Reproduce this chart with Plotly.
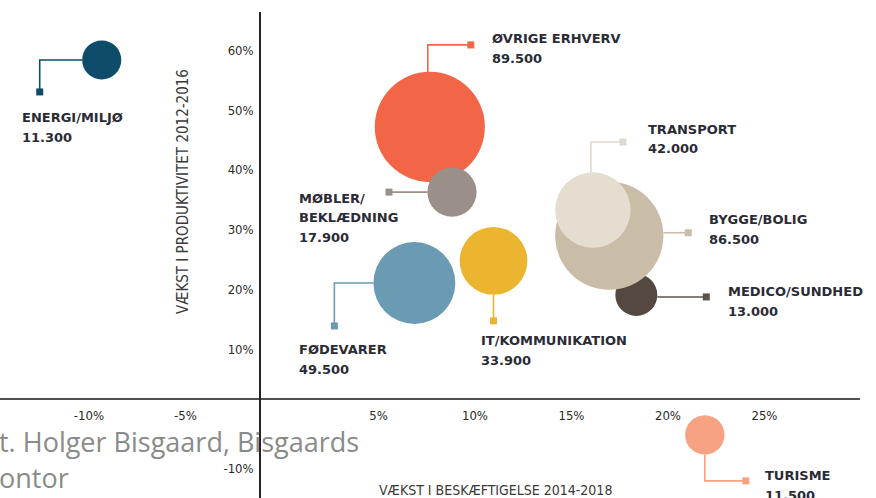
import math
import plotly.graph_objects as go

# ---------------- data ----------------
categories = ["ENERGI/MILJØ", "ØVRIGE ERHVERV", "MØBLER/\nBEKLÆDNING", "FØDEVARER",
              "IT/KOMMUNIKATION", "MEDICO/SUNDHED", "BYGGE/BOLIG", "TRANSPORT", "TURISME"]
employment_growth = [-8.2, 8.8, 9.95, 8.0, 12.1, 19.5, 18.1, 17.25, 23.05]     # x, %
productivity_growth = [56.7, 45.5, 34.6, 19.4, 23.1, 17.4, 27.3, 31.6, -6.0]   # y, %
employees = [11300, 89500, 17900, 49500, 33900, 13000, 86500, 42000, 11500]
employee_labels = ["11.300", "89.500", "17.900", "49.500", "33.900", "13.000", "86.500", "42.000", "11.500"]

x_tick_vals = [-10, -5, 5, 10, 15, 20, 25]
x_tick_text = ["-10%", "-5%", "5%", "10%", "15%", "20%", "25%"]
y_tick_vals = [-10, 10, 20, 30, 40, 50, 60]
y_tick_text = ["-10%", "10%", "20%", "30%", "40%", "50%", "60%"]

x_title = "VÆKST I BESKÆFTIGELSE 2014-2018"
y_title = "VÆKST I PRODUKTIVITET 2012-2016"
source_lines = ["t. Holger Bisgaard, Bisgaards", "ontor"]

# ---------------- styles ----------------
colors = ["#0e4c6a", "#f26547", "#9b8f8a", "#6a9bb2", "#ecb52f", "#554840", "#cabda8", "#e4ddd0", "#f6a283"]
line_colors = ["#0e4c6a", "#f26547", "#9b8f8a", "#6a9bb2", "#ecb52f", "#5e534c", "#cabda8", "#e0d9cb", "#f6a283"]
# leader: side of bubble where it starts, then bend points (pixel offsets from centre, y down)
leaders = [
    ("left", [(-62, 0), (-62, 32)]),
    ("up", [(-2, -82), (41, -82)]),
    ("left", [(-63, 0)]),
    ("left", [(-80, 0), (-80, 43)]),
    ("down", [(0, 60)]),
    ("right", [(70, 2)]),
    ("right", [(79, -3)]),
    ("up", [(-2, -68), (30, -68)]),
    ("down", [(0, 46), (41, 46)]),
]
label_offsets = [(-82, 58), (60, -88), (-155, 6), (-117, 67), (-15, 80),
                 (90, -3), (98, -16), (53, -81), (58, 41)]
LINE_STEP = 19.5

W, H = 876, 498
M_L, M_R, M_T, M_B = 0, 16, 12, 0
X_RANGE = [-13.47, 31.09]
Y_RANGE = [-16.56, 64.72]
PLOT_W = W - M_L - M_R
PLOT_H = H - M_T - M_B
PX_X = PLOT_W / (X_RANGE[1] - X_RANGE[0])
PX_Y = PLOT_H / (Y_RANGE[1] - Y_RANGE[0])
DIAM_K = 0.368                      # diameter px per sqrt(employee)
SIZEREF = 2 / DIAM_K ** 2           # plotly area mode: d = sqrt(2*v/sizeref)

LABEL_FONT = dict(family="DejaVu Sans, Verdana, sans-serif", size=13, color="#2b2b36", weight=700)
TICK_FONT = dict(family="Liberation Sans Narrow, DejaVu Sans Condensed, Roboto, sans-serif", size=13, color="#2a2a2a")

fig = go.Figure()

fig.add_trace(go.Scatter(
    x=employment_growth, y=productivity_growth, mode="markers",
    marker=dict(size=employees, sizemode="area", sizeref=SIZEREF, color=colors,
                line=dict(width=0), opacity=1),
    text=[c.replace("\n", " ") for c in categories], hoverinfo="text",
))

shapes = []
annotations = []
sq_x, sq_y, sq_c = [], [], []
for i, cat in enumerate(categories):
    cx, cy = employment_growth[i], productivity_growth[i]
    r = DIAM_K * math.sqrt(employees[i]) / 2
    side, pts = leaders[i]
    fx, fy = pts[0]
    start = {"left": (-r, fy), "right": (r, fy), "up": (fx, -r), "down": (fx, r)}[side]
    all_pts = [start] + pts
    dpts = [(cx + px / PX_X, cy - py / PX_Y) for px, py in all_pts]
    path = "M " + " L ".join(f"{x:.4f},{y:.4f}" for x, y in dpts)
    shapes.append(dict(type="path", path=path, xref="x", yref="y",
                       line=dict(color=line_colors[i], width=1.6), layer="above"))
    sq_x.append(dpts[-1][0]); sq_y.append(dpts[-1][1]); sq_c.append(line_colors[i])

    dx, dy = label_offsets[i]
    lines = cat.split("\n") + [employee_labels[i]]
    for k, ln in enumerate(lines):
        annotations.append(dict(text=ln, x=cx, y=cy, xref="x", yref="y", xanchor="left",
                                yanchor="middle", xshift=dx, yshift=-(dy + k * LINE_STEP),
                                showarrow=False, font=LABEL_FONT))

fig.add_trace(go.Scatter(x=sq_x, y=sq_y, mode="markers",
                         marker=dict(symbol="square", size=7, color=sq_c, line=dict(width=0)),
                         hoverinfo="skip"))

# axis titles
annotations.append(dict(text=y_title, xref="paper", yref="paper", x=183 / PLOT_W, y=(H - 192) / PLOT_H,
                        textangle=-90, showarrow=False, xanchor="center", yanchor="middle",
                        font=dict(family=TICK_FONT["family"], size=15, color="#3a3a3a")))
annotations.append(dict(text=x_title, xref="paper", yref="paper", x=495 / PLOT_W, y=(H - 490) / PLOT_H,
                        showarrow=False, xanchor="center", yanchor="middle",
                        font=dict(family=TICK_FONT["family"], size=14, color="#3a3a3a")))
# cropped source text
for k, (ln, py) in enumerate(zip(source_lines, [441, 477])):
    annotations.append(dict(text=ln, xref="paper", yref="paper", x=0, y=(H - py) / PLOT_H, xshift=-3,
                            showarrow=False, xanchor="left", yanchor="middle",
                            font=dict(family="Open Sans, Noto Sans, sans-serif", size=27, color="#8a8a8a")))

fig.update_layout(
    width=W, height=H, margin=dict(l=M_L, r=M_R, t=M_T, b=M_B),
    paper_bgcolor="white", plot_bgcolor="white", showlegend=False,
    shapes=shapes, annotations=annotations,
    xaxis=dict(range=X_RANGE, anchor="free", position=(H - 399) / PLOT_H, showline=True,
               linecolor="#505050", linewidth=2.2, showgrid=False, zeroline=False,
               tickmode="array", tickvals=x_tick_vals, ticktext=x_tick_text, ticks="",
               ticklabelshift=22, ticklabelstandoff=4, tickfont=TICK_FONT, fixedrange=True),
    yaxis=dict(range=Y_RANGE, anchor="free", position=260 / PLOT_W, showline=True,
               linecolor="#222222", linewidth=1.5, showgrid=False, zeroline=False,
               tickmode="array", tickvals=y_tick_vals, ticktext=y_tick_text, ticks="",
               ticklabelshift=10, ticklabelstandoff=3, tickfont=TICK_FONT, fixedrange=True),
)

fig.write_html("out.html", config={"displayModeBar": False},
               post_script="document.body.style.margin='0px';")
